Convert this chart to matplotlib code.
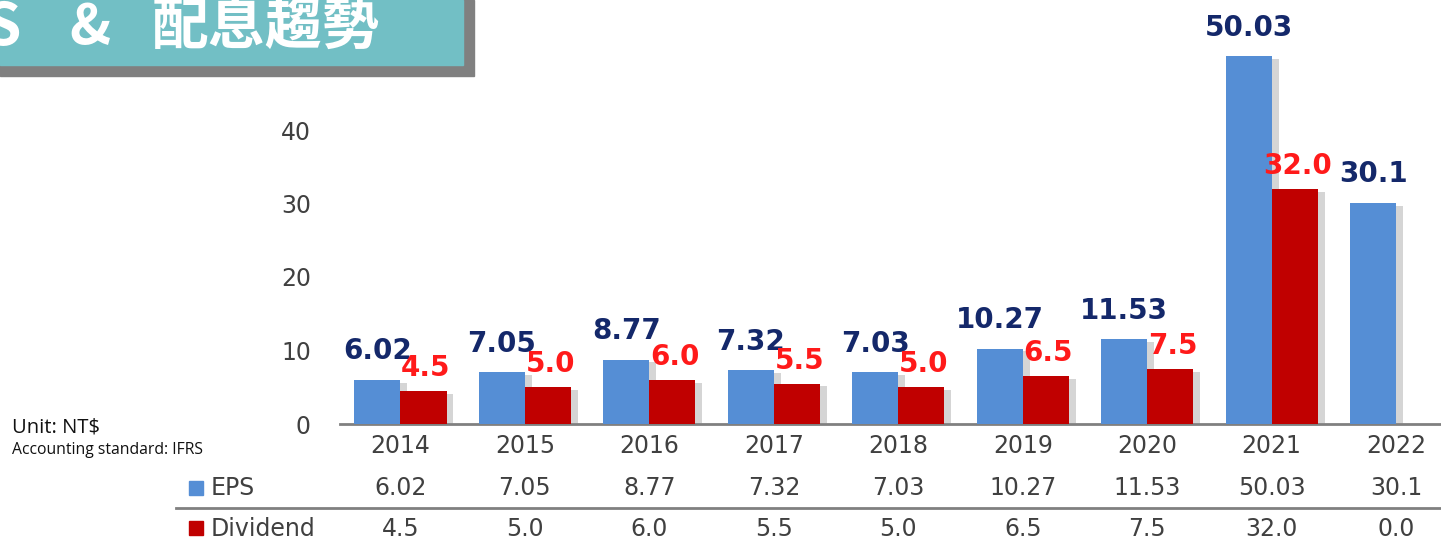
import matplotlib
matplotlib.use("Agg")
import matplotlib.pyplot as plt
import matplotlib.patheffects as pe
from matplotlib.patches import Rectangle
from matplotlib.transforms import blended_transform_factory

years = ["2014", "2015", "2016", "2017", "2018", "2019", "2020", "2021", "2022"]
eps = [6.02, 7.05, 8.77, 7.32, 7.03, 10.27, 11.53, 50.03, 30.1]
dividend = [4.5, 5.0, 6.0, 5.5, 5.0, 6.5, 7.5, 32.0, 0.0]
eps_labels = ["6.02", "7.05", "8.77", "7.32", "7.03", "10.27", "11.53", "50.03", "30.1"]
div_labels = ["4.5", "5.0", "6.0", "5.5", "5.0", "6.5", "7.5", "32.0", "0.0"]
yticks = [0, 10, 20, 30, 40]

W, H = 1441, 539
fig = plt.figure(figsize=(W / 100, H / 100), dpi=100)
fig.patch.set_facecolor("white")

ax = fig.add_axes([340 / W, (H - 424) / H, 1 - 340 / W, 424 / H])
ax.set_xlim(-0.486, 8.361)
ax.set_ylim(0, 424 / 7.35)

blue = "#558ED5"
red = "#C00000"
navy = "#14286A"
lab_red = "#FF1A1A"
gray_txt = "#404040"

x = list(range(len(years)))
bw = 0.37
shadow = [pe.SimplePatchShadow(offset=(5, -2), shadow_rgbFace="#888888", alpha=0.35), pe.Normal()]
b1 = ax.bar([i - bw / 2 for i in x], eps, width=bw, color=blue, zorder=3)
b2 = ax.bar([i + bw / 2 for i in x if dividend[i] > 0],
            [d for d in dividend if d > 0], width=bw, color=red, zorder=3)
for r in list(b1) + list(b2):
    r.set_path_effects(shadow)

for i in x:
    ax.annotate(eps_labels[i], (i - bw / 2, eps[i]), xytext=(0, 10.5), textcoords="offset points",
                ha="center", va="bottom", fontsize=20, fontweight="bold", color=navy, zorder=5)
    if dividend[i] > 0:
        ax.annotate(div_labels[i], (i + bw / 2 + 0.02, dividend[i]), xytext=(0, 6.5),
                    textcoords="offset points", ha="center", va="bottom", fontsize=20,
                    fontweight="bold", color=lab_red, zorder=5)

for s in ["top", "right", "left"]:
    ax.spines[s].set_visible(False)
ax.spines["bottom"].set_color("#808080")
ax.spines["bottom"].set_linewidth(2)
ax.set_yticks(yticks)
ax.set_yticklabels([str(t) for t in yticks], fontsize=17, color=gray_txt)
ax.tick_params(axis="y", length=0, pad=21)
ax.set_xticks([])
ax.patch.set_alpha(0)

tr = blended_transform_factory(ax.transData, fig.transFigure)
def fy(py):
    return 1 - py / H

for i in x:
    ax.text(i, fy(446), years[i], transform=tr, ha="center", va="center", fontsize=17, color=gray_txt)
    ax.text(i, fy(488), eps_labels[i], transform=tr, ha="center", va="center", fontsize=17, color=gray_txt)
    ax.text(i, fy(529), div_labels[i], transform=tr, ha="center", va="center", fontsize=17, color=gray_txt)

# table separator line
fig.add_artist(plt.Line2D([176 / W, 1], [fy(508), fy(508)], color="#808080", lw=2))

# legend keys
fig.add_artist(Rectangle((189 / W, fy(495)), 14 / W, 14 / H, color=blue, transform=fig.transFigure))
fig.add_artist(Rectangle((189 / W, fy(535)), 14 / W, 14 / H, color=red, transform=fig.transFigure))
fig.text(211 / W, fy(488), "EPS", ha="left", va="center", fontsize=17, color=gray_txt)
fig.text(211 / W, fy(529), "Dividend", ha="left", va="center", fontsize=17, color=gray_txt)

# unit notes
fig.text(12 / W, fy(427), "Unit: NT$", ha="left", va="center", fontsize=14.5, color="#111111",
         family=["Open Sans", "DejaVu Sans"])
fig.text(12 / W, fy(450), "Accounting standard: IFRS", ha="left", va="center", fontsize=11.3,
         color="#111111", family=["Open Sans", "DejaVu Sans"])

# title banner
fig.add_artist(Rectangle((0, fy(76)), 474 / W, 76 / H, color="#808080", transform=fig.transFigure, zorder=0))
fig.add_artist(Rectangle((0, fy(65)), 463 / W, 65 / H, color="#72BFC5", transform=fig.transFigure, zorder=1))
cjk = ["Noto Sans CJK TC", "DejaVu Sans"]
fig.text(21 / W, fy(28), "S", ha="right", va="center", fontsize=42, color="white", family=cjk,
         fontweight="bold", zorder=2)
fig.text(90 / W, fy(28), "&", ha="center", va="center", fontsize=40, color="white", family=cjk,
         fontweight="bold", zorder=2)
fig.text(152 / W, fy(28), "配息趨勢", ha="left", va="center", fontsize=41, color="white", family=cjk,
         fontweight="bold", zorder=2)

fig.savefig("out.png", dpi=100)
